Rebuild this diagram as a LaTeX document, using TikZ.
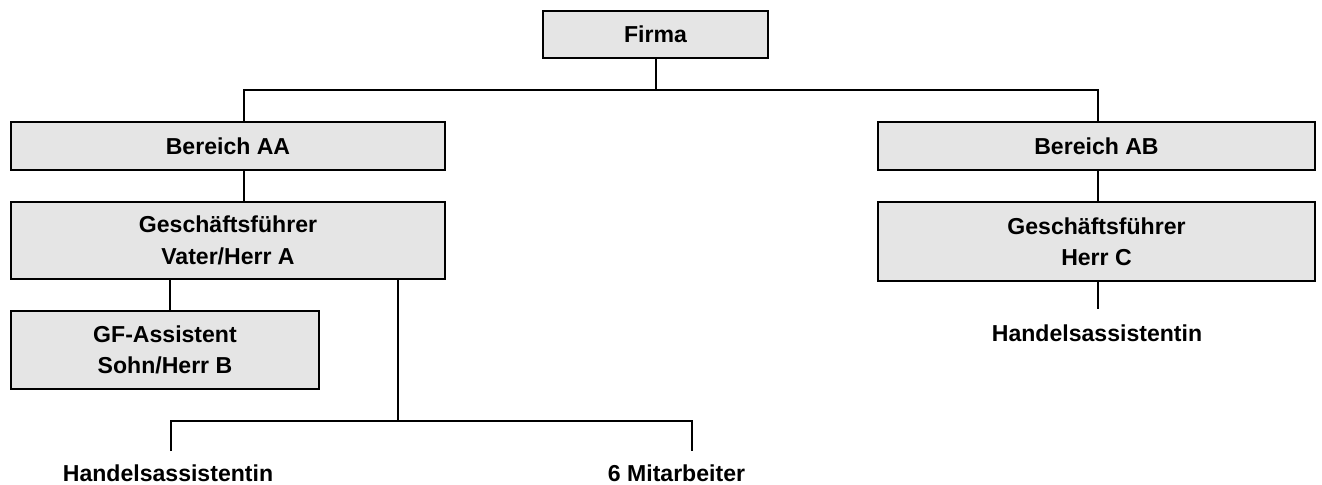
\documentclass[tikz,border=0pt]{standalone}
\usepackage{fontspec}
\setmainfont{Liberation Sans}
\begin{document}
\begin{tikzpicture}[x=0.75pt,y=-0.75pt,
  orgbox/.style={draw=black,line width=1.5pt,fill=black!10,rectangle,inner sep=0pt,align=center,font=\fontsize{17.3}{23.6}\selectfont\bfseries},
  lbl/.style={inner sep=0pt,anchor=base,font=\fontsize{17.3}{23.6}\selectfont\bfseries},
  conn/.style={line width=1.5pt}]
\useasboundingbox (0,0) rectangle (1322,485);
\node[orgbox,minimum width=225*0.75pt,minimum height=47*0.75pt] (firma) at (655.5,34.5) {Firma};
\node[orgbox,minimum width=434*0.75pt,minimum height=48*0.75pt] (baa) at (228,146) {Bereich AA};
\node[orgbox,minimum width=437*0.75pt,minimum height=48*0.75pt] (bab) at (1096.5,146) {Bereich AB};
\node[orgbox,minimum width=434*0.75pt,minimum height=77*0.75pt] (gfa) at (228,240.5) {Geschäftsführer\\Vater/Herr A};
\node[orgbox,minimum width=437*0.75pt,minimum height=79*0.75pt] (gfc) at (1096.5,241.5) {Geschäftsführer\\Herr C};
\node[orgbox,minimum width=308*0.75pt,minimum height=78*0.75pt] (gfas) at (165,350) {GF-Assistent\\Sohn/Herr B};
\node[lbl] (ha1) at (168,481) {Handelsassistentin};
\node[lbl] (ma) at (676.5,481) {6 Mitarbeiter};
\node[lbl] (ha2) at (1097,341) {Handelsassistentin};
\coordinate (ca) at (244,90);
\coordinate (cb) at (1098,90);
\coordinate (cl) at (171,421);
\coordinate (cr) at (692,421);
\coordinate (cm) at (398,421);
\coordinate (cg) at (170,0);
\coordinate (e1) at (171,451);
\coordinate (e2) at (692,451);
\coordinate (e3) at (1098,309);
\draw[conn] (firma.south) -- (firma.south |- ca);
\draw[conn] (ca |- baa.north) -- (ca) -- (cb) -- (cb |- bab.north);
\draw[conn] (ca |- baa.south) -- (ca |- gfa.north);
\draw[conn] (cb |- bab.south) -- (cb |- gfc.north);
\draw[conn] (cb |- gfc.south) -- (e3);
\draw[conn] (cg |- gfa.south) -- (cg |- gfas.north);
\draw[conn] (cm |- gfa.south) -- (cm);
\draw[conn] (e1) -- (cl) -- (cr) -- (e2);
\end{tikzpicture}
\end{document}
